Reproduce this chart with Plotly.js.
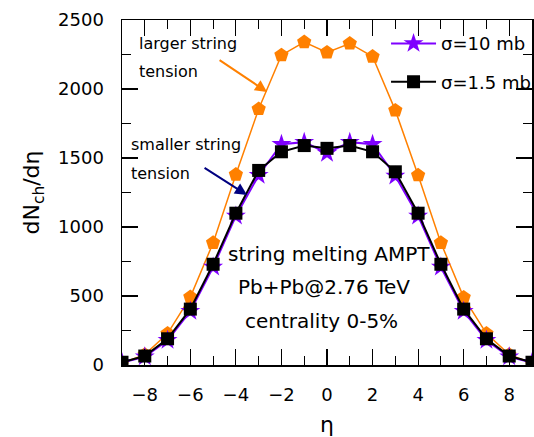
<!DOCTYPE html>
<html>
<head>
<meta charset="utf-8">
<script src="https://cdn.plot.ly/plotly-3.0.1.min.js"></script>
<style>html,body{margin:0;padding:0;background:#fff;}#chart{width:534px;height:437px;}</style>
</head>
<body>
<div id="chart"></div>
<script>
const eta = [-9,-8,-7,-6,-5,-4,-3,-2,-1,0,1,2,3,4,5,6,7,8,9];
const largerTension = [15,75,228,492,885,1380,1855,2245,2340,2265,2330,2235,1845,1375,885,490,228,75,15];
const sigma10 = [18,60,180,390,710,1080,1375,1600,1615,1535,1615,1600,1370,1080,710,390,180,60,18];
const sigma15 = [20,65,190,405,730,1100,1410,1545,1590,1570,1590,1545,1400,1100,730,405,190,65,20];
const seriesNames = ['\u03c3=10 mb', '\u03c3=1.5 mb'];

const FONT = 'DejaVu Sans, sans-serif';

const traces = [
  {x: eta, y: largerTension, mode: 'lines+markers', showlegend: false,
   line: {color: '#FF8000', width: 1.5},
   marker: {symbol: 'pentagon', size: 15, color: '#FF8000'}},
  {x: eta, y: sigma10, mode: 'lines+markers', name: seriesNames[0], legendgroup: 'a',
   line: {color: '#7F00FF', width: 2},
   marker: {symbol: 'star', size: 15, color: '#7F00FF'}},
  {x: eta, y: sigma15, mode: 'lines+markers', name: seriesNames[1], legendgroup: 'b',
   line: {color: '#000000', width: 2},
   marker: {symbol: 'square', size: 13, color: '#000000'}}
];

const axisCommon = {
  showgrid: false, zeroline: false, showline: true, linecolor: '#000', linewidth: 1.5,
  mirror: 'ticks', ticks: 'inside', ticklen: 16, tickwidth: 1.2, tickcolor: '#000',
  tickfont: {family: FONT, size: 18, color: '#000'}
};

const layout = {
  width: 534, height: 437,
  margin: {l: 122, r: 2, t: 20, b: 72, autoexpand: false},
  paper_bgcolor: '#fff', plot_bgcolor: '#fff',
  font: {family: FONT, color: '#000'},
  xaxis: Object.assign({}, axisCommon, {
    range: [-9, 9], tickvals: [-8,-6,-4,-2,0,2,4,6,8],
    minor: {dtick: 1, ticks: 'inside', ticklen: 9, tickwidth: 1.2, tickcolor: '#000'},
    ticklabelstandoff: 13,
    title: {text: '\u03b7', font: {family: FONT, size: 22}, standoff: 16}
  }),
  yaxis: Object.assign({}, axisCommon, {
    range: [0, 2500], dtick: 500,
    minor: {dtick: 250, ticks: 'inside', ticklen: 9, tickwidth: 1.2, tickcolor: '#000'},
    ticklabelstandoff: 13,
    title: {text: 'dN<sub>ch</sub>/d\u03b7', font: {family: FONT, size: 22}, standoff: 12}
  }),
  showlegend: true,
  legend: {x: 0.644, y: 0.985, xanchor: 'left', yanchor: 'top', bgcolor: 'rgba(0,0,0,0)',
           itemwidth: 45,
           font: {family: FONT, size: 18}, tracegroupgap: 12, traceorder: 'grouped'},
  annotations: [
    {x: -2.63, y: 1978, ax: -49, ay: -33, xref: 'x', yref: 'y', showarrow: true, text: '',
     arrowcolor: '#FF8000', arrowwidth: 2, arrowhead: 2, arrowsize: 1.2},
    {x: -3.51, y: 1232, ax: -44, ay: -28, xref: 'x', yref: 'y', showarrow: true, text: '',
     arrowcolor: '#000080', arrowwidth: 2, arrowhead: 2, arrowsize: 1.2},
    {x: -8.32, y: 2330, xref: 'x', yref: 'y', xanchor: 'left', showarrow: false, text: 'larger string', font: {family: FONT, size: 16}},
    {x: -8.32, y: 2130, xref: 'x', yref: 'y', xanchor: 'left', showarrow: false, text: 'tension', font: {family: FONT, size: 16}},
    {x: -8.68, y: 1600, xref: 'x', yref: 'y', xanchor: 'left', showarrow: false, text: 'smaller string', font: {family: FONT, size: 16}},
    {x: -8.68, y: 1390, xref: 'x', yref: 'y', xanchor: 'left', showarrow: false, text: 'tension', font: {family: FONT, size: 16}},
    {x: 0.09, y: 804, xref: 'x', yref: 'y', showarrow: false, text: 'string melting AMPT', font: {family: FONT, size: 20}},
    {x: -0.11, y: 565, xref: 'x', yref: 'y', showarrow: false, text: 'Pb+Pb@2.76 TeV', font: {family: FONT, size: 20}},
    {x: -0.26, y: 319, xref: 'x', yref: 'y', showarrow: false, text: 'centrality 0-5%', font: {family: FONT, size: 20}}
  ]
};

Plotly.newPlot('chart', traces, layout, {displayModeBar: false, staticPlot: true});
</script>
</body>
</html>
